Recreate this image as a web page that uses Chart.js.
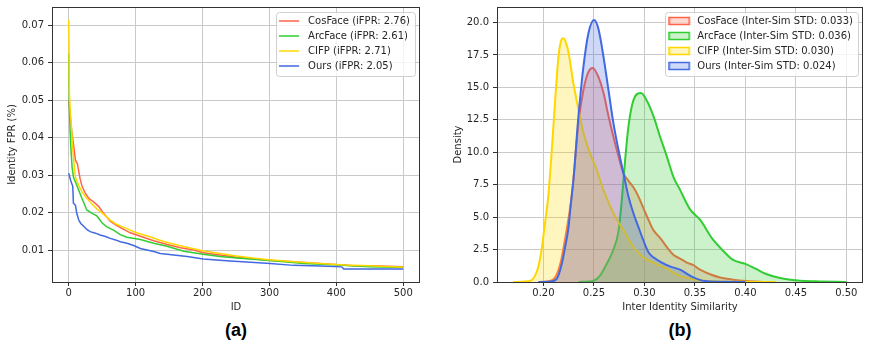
<!DOCTYPE html>
<html><head><meta charset="utf-8">
<script src="https://cdn.jsdelivr.net/npm/chart.js@4/dist/chart.umd.min.js"></script>
<style>
html,body{margin:0;padding:0;background:#fff;}
#wrap{position:relative;width:872px;height:354px;overflow:hidden;background:#fff;}
canvas{position:absolute;top:0;}
.cap{position:absolute;top:320px;width:120px;text-align:center;font:bold 18px 'Liberation Sans',Arial,sans-serif;line-height:20px;color:#000;}
</style></head><body>
<div id="wrap">
<canvas id="c1" width="436" height="320" style="left:0"></canvas>
<canvas id="c2" width="436" height="320" style="left:436px"></canvas>
<div class="cap" style="left:176px">(a)</div>
<div class="cap" style="left:620px">(b)</div>
</div>
<script>
// ---------- data ----------
const fprLabels = ['CosFace (iFPR: 2.76)', 'ArcFace (iFPR: 2.61)', 'CIFP (iFPR: 2.71)', 'Ours (iFPR: 2.05)'];
const simLabels = ['CosFace (Inter-Sim STD: 0.033)', 'ArcFace (Inter-Sim STD: 0.036)', 'CIFP (Inter-Sim STD: 0.030)', 'Ours (Inter-Sim STD: 0.024)'];

const idTicks = [0, 100, 200, 300, 400, 500];
const fprTicks = [0.01, 0.02, 0.03, 0.04, 0.05, 0.06, 0.07];
const simTicks = [0.20, 0.25, 0.30, 0.35, 0.40, 0.45, 0.50];
const densTicks = [0, 2.5, 5, 7.5, 10, 12.5, 15, 17.5, 20];

const cosIds = [0,2,5,8,10,13,15,17,20,25,30,37,45,52,62,72,82,92,107,127,147,167,187,201,226,251,296,336,386,426,450,500];
const cosFpr = [0.050,0.046,0.041,0.037,0.034,0.033,0.031,0.029,0.027,0.0251,0.0238,0.0229,0.0216,0.0198,0.0177,0.0165,0.0155,0.0146,0.0137,0.0125,0.0115,0.0106,0.0100,0.0093,0.0087,0.0081,0.0073,0.0069,0.0063,0.0058,0.0058,0.0055];
const arcIds = [0,1,2,3,5,7,12,17,22,27,35,42,50,57,67,77,87,107,127,147,172,201,226,251,301,351,401,450,500];
const arcFpr = [0.0625,0.048,0.042,0.038,0.0322,0.0295,0.0273,0.025,0.0228,0.0207,0.0198,0.0191,0.0172,0.0162,0.0153,0.0141,0.0134,0.0128,0.0118,0.0110,0.0097,0.0089,0.0083,0.0079,0.0072,0.0064,0.0060,0.0055,0.0053];
const cifpIds = [0,1,2,4,6,8,10,15,20,25,32,42,52,62,72,87,100,120,135,150,175,200,226,251,275,296,336,376,411,450,500];
const cifpFpr = [0.0715,0.052,0.048,0.043,0.037,0.033,0.0295,0.0272,0.0255,0.0242,0.0228,0.021,0.0196,0.018,0.0168,0.0157,0.0147,0.0136,0.0127,0.0119,0.0108,0.0098,0.0091,0.0084,0.0079,0.0075,0.0069,0.0064,0.0060,0.0058,0.0054];
const oursIds = [0,3,6,7,10,12,15,18,22,27,32,40,47,55,62,70,77,87,97,107,117,127,137,157,177,201,241,266,301,336,376,408,411,500];
const oursFpr = [0.0305,0.0285,0.027,0.0225,0.022,0.0198,0.018,0.0171,0.0164,0.0155,0.0149,0.0145,0.014,0.0136,0.0131,0.0127,0.0122,0.0118,0.0112,0.0104,0.0100,0.0096,0.0091,0.0087,0.0083,0.0076,0.0071,0.0068,0.0064,0.0059,0.0057,0.0055,0.0049,0.0049];

const cosSim = [0.195,0.205,0.212,0.217,0.2205,0.224,0.2271,0.2297,0.2347,0.2396,0.2446,0.2488,0.2545,0.2594,0.2644,0.2693,0.2743,0.2792,0.2842,0.2891,0.294,0.299,0.304,0.3089,0.3155,0.3221,0.3287,0.3353,0.342,0.3485,0.3551,0.365,0.375,0.3881,0.4013,0.42];
const cosDens = [0,0.05,0.4,1.5,2.9,4.5,6.1,7.9,12.3,14.8,16.2,16.5,15.8,14.6,12.8,11.2,9.7,8.4,7.8,7.3,6.6,5.7,4.8,4.0,3.4,2.7,2.1,1.8,1.5,1.3,0.95,0.6,0.35,0.18,0.08,0];
const arcSim = [0.235,0.2495,0.2561,0.2627,0.2693,0.2743,0.2776,0.2809,0.2842,0.2891,0.2967,0.3023,0.3089,0.3155,0.3221,0.3287,0.3353,0.3452,0.3551,0.3676,0.3775,0.3874,0.40,0.41,0.42,0.4332,0.4464,0.4695,0.50];
const arcDens = [0,0.1,0.5,1.4,2.5,3.9,6.3,9.4,12.0,14.0,14.57,14.0,12.8,11.2,9.7,8.1,7.1,5.6,4.8,3.3,2.45,1.72,1.4,1.03,0.64,0.33,0.15,0.05,0];
const cifpSim = [0.170,0.180,0.188,0.192,0.195,0.198,0.201,0.205,0.2083,0.2116,0.2149,0.2175,0.2198,0.2225,0.2248,0.2297,0.2347,0.2396,0.2462,0.2529,0.2594,0.2693,0.2792,0.2891,0.299,0.3089,0.3221,0.3353,0.3518,0.3683,0.39,0.43];
const cifpDens = [0,0.03,0.12,0.55,1.2,2.4,4.2,6.8,10.2,14.0,17.4,18.6,18.8,18.4,17.7,15.3,13.3,11.5,9.9,8.6,7.1,5.3,4.0,2.7,1.9,1.5,1.03,0.45,0.18,0.05,0.01,0];
const oursSim = [0.195,0.2066,0.2133,0.2182,0.2215,0.2248,0.2271,0.2297,0.2347,0.2396,0.2446,0.2502,0.2545,0.2594,0.2644,0.2693,0.2743,0.2792,0.2842,0.2891,0.294,0.299,0.304,0.3089,0.3172,0.3254,0.3353,0.3485,0.36,0.38,0.40];
const oursDens = [0,0.03,0.26,1.4,2.7,4.2,6.0,7.9,12.8,16.6,19.2,20.2,19.5,17.4,14.8,12.25,10.2,8.4,6.6,5.3,4.25,3.2,2.3,1.9,1.5,1.2,0.95,0.35,0.07,0.02,0];

// ---------- styles ----------
const lineColors = ['#FF6347', '#32CD32', '#FFD700', '#4169E1'];
const fillColors = ['rgba(255,99,71,0.25)', 'rgba(50,205,50,0.25)', 'rgba(255,215,0,0.25)', 'rgba(65,105,225,0.25)'];
const FONT = "'DejaVu Sans', sans-serif";

Chart.defaults.font.family = FONT;
Chart.defaults.font.size = 10;
Chart.defaults.color = '#262626';
Chart.defaults.animation = false;

function lineHandle(color) {
  const c = document.createElement('canvas'); c.width = 24; c.height = 6;
  const g = c.getContext('2d'); g.strokeStyle = color; g.lineWidth = 1.5;
  g.beginPath(); g.moveTo(0, 3); g.lineTo(20, 3); g.stroke(); return c;
}
function patchHandle(color, fill) {
  const c = document.createElement('canvas'); c.width = 24; c.height = 10;
  const g = c.getContext('2d'); g.fillStyle = fill; g.fillRect(1, 1.5, 20, 7);
  g.strokeStyle = color; g.lineWidth = 1.5; g.strokeRect(1, 1.5, 20, 7); return c;
}

function pts(xs, ys) { return xs.map((x, i) => ({x: x, y: ys[i]})); }

const gridOpts = { color: '#c9c9c9', lineWidth: 1, drawTicks: true, tickLength: 4, tickColor: '#333', tickWidth: 1 };

const framePlugin = {
  id: 'mplFrame',
  beforeLayout(chart) {
    const lg = chart.legend;
    if (lg) lg._layers = () => [{ z: 1, draw: (ca) => lg.draw(ca) }];
  },
  afterLayout(chart) {
    const lg = chart.legend, ca = chart.chartArea, ctx = chart.ctx;
    ctx.save(); ctx.font = '10px ' + FONT;
    let tw = 0;
    chart.data.datasets.forEach(d => { tw = Math.max(tw, ctx.measureText(d.label).width); });
    ctx.restore();
    const frameRight = ca.right - 5;
    lg.left = frameRight - (5 + 29 + tw + 5);
    lg.top = ca.top + 4;
    lg.right = ca.right; lg.bottom = ca.bottom;
    chart.$frame = { x: lg.left + 1.5, y: lg.top + 1, w: frameRight - lg.left - 1.5, h: 64 };
  },
  afterDatasetsDraw(chart) {
    const f = chart.$frame, ctx = chart.ctx; if (!f) return;
    ctx.save();
    ctx.beginPath();
    if (ctx.roundRect) ctx.roundRect(Math.round(f.x) + 0.5, Math.round(f.y) + 0.5, Math.round(f.w), Math.round(f.h), 3);
    else ctx.rect(Math.round(f.x) + 0.5, Math.round(f.y) + 0.5, Math.round(f.w), Math.round(f.h));
    ctx.fillStyle = 'rgba(255,255,255,0.8)'; ctx.fill();
    ctx.strokeStyle = '#d0d0d0'; ctx.lineWidth = 1; ctx.stroke();
    ctx.restore();
  },
  afterDraw(chart) {
    const ca = chart.chartArea, ctx = chart.ctx;
    ctx.save(); ctx.strokeStyle = '#333'; ctx.lineWidth = 1;
    const l = Math.round(ca.left), t = Math.round(ca.top), r = Math.round(ca.right), b = Math.round(ca.bottom);
    ctx.strokeRect(l + 0.5, t + 0.5, r - l - 1, b - t);
    ctx.restore();
  }
};

function makeAxis(o) {
  const horiz = o.horiz;
  return {
    type: 'linear', min: o.min, max: o.max,
    afterBuildTicks: s => { s.ticks = o.ticks.map(v => ({ value: v })); },
    afterFit: s => {
      if (horiz) { s.height = o.size; s.paddingLeft = 0; s.paddingRight = 0; }
      else { s.width = o.size; s.paddingTop = 0; s.paddingBottom = 0; }
    },
    grid: gridOpts,
    border: { display: false },
    ticks: { autoSkip: false, maxRotation: 0, minRotation: 0, padding: horiz ? 1 : 4, callback: o.fmt, color: '#262626' },
    title: { display: true, text: o.title, color: '#262626', font: { size: 10, family: FONT },
             padding: horiz ? { top: 0, bottom: 7 } : { top: o.tpad, bottom: 0 } }
  };
}

function legendOpts(handles) {
  return {
    display: true, position: 'chartArea', align: 'start',
    labels: {
      usePointStyle: true, pointStyleWidth: 24, padding: 5, color: '#262626',
      font: { size: 10, family: FONT },
      generateLabels(chart) {
        const items = Chart.defaults.plugins.legend.labels.generateLabels(chart);
        items.forEach(it => { it.pointStyle = handles[it.datasetIndex]; });
        return items.sort((a, b) => a.datasetIndex - b.datasetIndex);
      }
    }
  };
}

// ---------- chart (a) ----------
const fprSeries = [[cosIds, cosFpr], [arcIds, arcFpr], [cifpIds, cifpFpr], [oursIds, oursFpr]];
new Chart(document.getElementById('c1'), {
  type: 'line',
  data: {
    datasets: fprSeries.map((s, i) => ({
      label: fprLabels[i], data: pts(s[0], s[1]),
      borderColor: lineColors[i], backgroundColor: lineColors[i],
      borderWidth: 1.5, pointRadius: 0, tension: 0, fill: false, order: 3 - i
    }))
  },
  options: {
    responsive: false, events: [], animation: false,
    layout: { padding: { left: 0, top: 7, right: 16, bottom: 0 }, autoPadding: false },
    plugins: { legend: legendOpts(lineColors.map(lineHandle)), tooltip: { enabled: false } },
    scales: {
      x: makeAxis({ horiz: true, min: -25, max: 525, ticks: idTicks, size: 38, title: 'ID', fmt: v => String(v) }),
      y: makeAxis({ horiz: false, min: 0.00146, max: 0.0749, ticks: fprTicks, size: 52, tpad: 6, title: 'Identity FPR (%)', fmt: v => v.toFixed(2) })
    }
  },
  plugins: [framePlugin]
});

// ---------- chart (b) ----------
const simSeries = [[cosSim, cosDens], [arcSim, arcDens], [cifpSim, cifpDens], [oursSim, oursDens]];
new Chart(document.getElementById('c2'), {
  type: 'line',
  data: {
    datasets: simSeries.map((s, i) => ({
      label: simLabels[i], data: pts(s[0], s[1]),
      borderColor: lineColors[i], backgroundColor: fillColors[i],
      borderWidth: 2, pointRadius: 0, cubicInterpolationMode: 'monotone', fill: 'origin', order: 3 - i
    }))
  },
  options: {
    responsive: false, events: [], animation: false,
    layout: { padding: { left: 0, top: 7, right: 9, bottom: 0 }, autoPadding: false },
    plugins: { legend: legendOpts(lineColors.map((c, i) => patchHandle(c, fillColors[i]))), tooltip: { enabled: false } },
    scales: {
      x: makeAxis({ horiz: true, min: 0.154, max: 0.5165, ticks: simTicks, size: 38, title: 'Inter Identity Similarity', fmt: v => v.toFixed(2) }),
      y: makeAxis({ horiz: false, min: 0, max: 21.2, ticks: densTicks, size: 61, tpad: 16, title: 'Density', fmt: v => v.toFixed(1) })
    }
  },
  plugins: [framePlugin]
});
</script>
</body></html>
